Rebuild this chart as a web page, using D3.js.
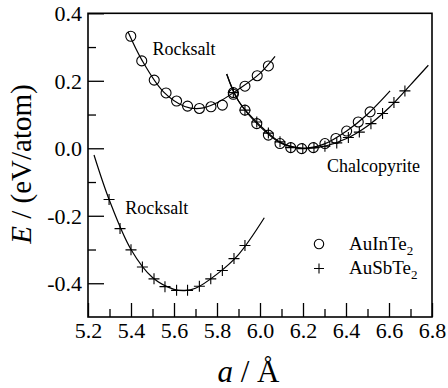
<!DOCTYPE html>
<html>
<head>
<meta charset="utf-8">
<script src="https://cdn.jsdelivr.net/npm/d3@7"></script>
<style>
  body { margin: 0; background: #fff; }
  svg { display: block; }
  svg text { font-family: "Liberation Serif", Tinos, "Times New Roman", Times, "DejaVu Serif", serif !important; fill: #000; }
</style>
</head>
<body>
<script>
var WIDTH = 448, HEIGHT = 388;
var LEFT = 88, RIGHT = 432, TOP = 13.3, BOTTOM = 317;

// AuInTe2 (circles)
var inRockA = [5.399, 5.45, 5.508, 5.563, 5.612, 5.663, 5.718, 5.772, 5.825, 5.876, 5.93, 5.987, 6.039];
var inRockE = [0.332, 0.259, 0.202, 0.164, 0.140, 0.125, 0.118, 0.123, 0.128, 0.160, 0.184, 0.215, 0.244];
var inChalA = [5.876, 5.93, 5.985, 6.039, 6.093, 6.143, 6.194, 6.248, 6.302, 6.353, 6.403, 6.457, 6.512];
var inChalE = [0.165, 0.113, 0.073, 0.039, 0.014, 0.002, -0.001, 0.002, 0.014, 0.029, 0.051, 0.078, 0.108];
// AuSbTe2 (plus)
var sbRockA = [5.298, 5.349, 5.4, 5.453, 5.507, 5.558, 5.612, 5.663, 5.718, 5.771, 5.825, 5.879, 5.93];
var sbRockE = [-0.152, -0.238, -0.301, -0.352, -0.387, -0.41, -0.421, -0.421, -0.409, -0.387, -0.362, -0.327, -0.288];
var sbChalA = [5.876, 5.93, 5.985, 6.039, 6.093, 6.143, 6.199, 6.251, 6.302, 6.357, 6.411, 6.462, 6.516, 6.57, 6.623, 6.674];
var sbChalE = [0.165, 0.113, 0.078, 0.045, 0.019, 0.002, -0.001, 0.002, 0.006, 0.016, 0.032, 0.048, 0.073, 0.103, 0.136, 0.170];

// fitted curves
var inRockFitA = [5.386, 5.45, 5.55, 5.65, 5.72, 5.8, 5.9, 6.0, 6.07];
var inRockFitE = [0.345, 0.262, 0.168, 0.124, 0.118, 0.135, 0.175, 0.222, 0.272];
var inChalFitA = [5.845, 5.9, 6.0, 6.1, 6.2, 6.3, 6.4, 6.5, 6.605];
var inChalFitE = [0.22, 0.14, 0.064, 0.014, 0.0, 0.013, 0.05, 0.101, 0.17];
var sbRockFitA = [5.228, 5.3, 5.4, 5.5, 5.6, 5.65, 5.7, 5.8, 5.9, 6.02];
var sbRockFitE = [-0.02, -0.155, -0.3, -0.383, -0.418, -0.422, -0.415, -0.373, -0.315, -0.206];
var sbChalFitA = [5.845, 5.9, 6.0, 6.1, 6.2, 6.3, 6.4, 6.5, 6.6, 6.7, 6.783];
var sbChalFitE = [0.22, 0.14, 0.068, 0.016, 0.0, 0.006, 0.028, 0.066, 0.12, 0.188, 0.246];

var xTicks = [5.2, 5.4, 5.6, 5.8, 6.0, 6.2, 6.4, 6.6, 6.8];
var xMinor = [5.3, 5.5, 5.7, 5.9, 6.1, 6.3, 6.5, 6.7];
var yTicks = [0.4, 0.2, 0.0, -0.2, -0.4];
var yMinor = [0.3, 0.1, -0.1, -0.3];

var labels = [
  {t: "Rocksalt", a: 5.5, e: 0.275},
  {t: "Rocksalt", a: 5.373, e: -0.195},
  {t: "Chalcopyrite", a: 6.312, e: -0.071}
];
var legendNames = ["AuInTe", "AuSbTe"];

var x = d3.scaleLinear().domain([5.2, 6.8]).range([LEFT, RIGHT]);
var y = d3.scaleLinear().domain([-0.5, 0.4]).range([BOTTOM, TOP]);

var zip = function (a, e) { return a.map(function (v, i) { return [v, e[i]]; }); };

var line = d3.line()
  .x(function (d) { return x(d[0]); })
  .y(function (d) { return y(d[1]); })
  .curve(d3.curveCatmullRom.alpha(0.5));

var svg = d3.select("body").append("svg")
  .attr("width", WIDTH)
  .attr("height", HEIGHT);

// axes with inward ticks
var fmt = function (d) { return d.toFixed(1); };
svg.append("g")
  .attr("transform", "translate(0," + BOTTOM + ")")
  .call(d3.axisBottom(x).tickValues(xMinor).tickSize(-8).tickFormat(""))
  .call(function (g) { g.select(".domain").remove(); });
var xa = svg.append("g")
  .attr("transform", "translate(0," + BOTTOM + ")")
  .call(d3.axisBottom(x).tickValues(xTicks).tickSize(-14).tickPadding(0).tickFormat(fmt));
xa.attr("font-family", null).select(".domain").remove();
xa.selectAll("text").attr("y", 21).attr("dy", 0).style("font-size", "22px");

svg.append("g")
  .attr("transform", "translate(" + LEFT + ",0)")
  .call(d3.axisLeft(y).tickValues(yMinor).tickSize(-8).tickFormat(""))
  .call(function (g) { g.select(".domain").remove(); });
var ya = svg.append("g")
  .attr("transform", "translate(" + LEFT + ",0)")
  .call(d3.axisLeft(y).tickValues(yTicks).tickSize(-16).tickPadding(0).tickFormat(fmt));
ya.attr("font-family", null).select(".domain").remove();
ya.selectAll("text").attr("x", -6).attr("dy", "0.34em").style("font-size", "22px");
svg.selectAll(".tick line").attr("stroke", "#000").attr("stroke-width", 1.3);

// frame
svg.append("rect")
  .attr("x", LEFT).attr("y", TOP)
  .attr("width", RIGHT - LEFT).attr("height", BOTTOM - TOP)
  .attr("fill", "none").attr("stroke", "#000").attr("stroke-width", 1.6);

// fitted curves
[[inRockFitA, inRockFitE], [inChalFitA, inChalFitE], [sbRockFitA, sbRockFitE], [sbChalFitA, sbChalFitE]]
  .forEach(function (s) {
    svg.append("path")
      .attr("d", line(zip(s[0], s[1])))
      .attr("fill", "none").attr("stroke", "#000").attr("stroke-width", 1.2);
  });

// markers
var circles = zip(inRockA, inRockE).concat(zip(inChalA, inChalE));
svg.append("g").selectAll("circle")
  .data(circles).enter().append("circle")
  .attr("cx", function (d) { return x(d[0]); })
  .attr("cy", function (d) { return y(d[1]); })
  .attr("r", 5)
  .attr("fill", "none").attr("stroke", "#000").attr("stroke-width", 1.1);

var plusPath = function (cx, cy, h) {
  return "M" + (cx - h) + "," + cy + "H" + (cx + h) + "M" + cx + "," + (cy - h) + "V" + (cy + h);
};
var pluses = zip(sbRockA, sbRockE).concat(zip(sbChalA, sbChalE));
svg.append("g").selectAll("path")
  .data(pluses).enter().append("path")
  .attr("d", function (d) { return plusPath(x(d[0]), y(d[1]), 5.5); })
  .attr("stroke", "#000").attr("stroke-width", 1.1);

// phase labels
svg.append("g").selectAll("text")
  .data(labels).enter().append("text")
  .attr("x", function (d) { return x(d.a); })
  .attr("y", function (d) { return y(d.e); })
  .style("font-size", "18px")
  .text(function (d) { return d.t; });

// legend
var lg = svg.append("g");
lg.append("circle").attr("cx", 319).attr("cy", 244).attr("r", 4.7)
  .attr("fill", "none").attr("stroke", "#000").attr("stroke-width", 1.1);
lg.append("path").attr("d", plusPath(319, 268.5, 5))
  .attr("stroke", "#000").attr("stroke-width", 1.1);
legendNames.forEach(function (n, i) {
  var t = lg.append("text").attr("x", 349).attr("y", 250 + i * 24).style("font-size", "19px");
  t.append("tspan").text(n);
  t.append("tspan").attr("dy", 5).style("font-size", "13px").text("2");
});

// axis titles
var xt = svg.append("text")
  .attr("x", 248.5).attr("y", 382)
  .attr("text-anchor", "middle")
  .style("font-size", "31px");
xt.append("tspan").style("font-style", "italic").text("a");
xt.append("tspan").text(" / \u00C5");

var yt = svg.append("text")
  .attr("transform", "translate(31,164) rotate(-90)")
  .attr("text-anchor", "middle")
  .style("font-size", "29px");
yt.append("tspan").style("font-style", "italic").text("E");
yt.append("tspan").text(" / (eV/atom)");
</script>
</body>
</html>
